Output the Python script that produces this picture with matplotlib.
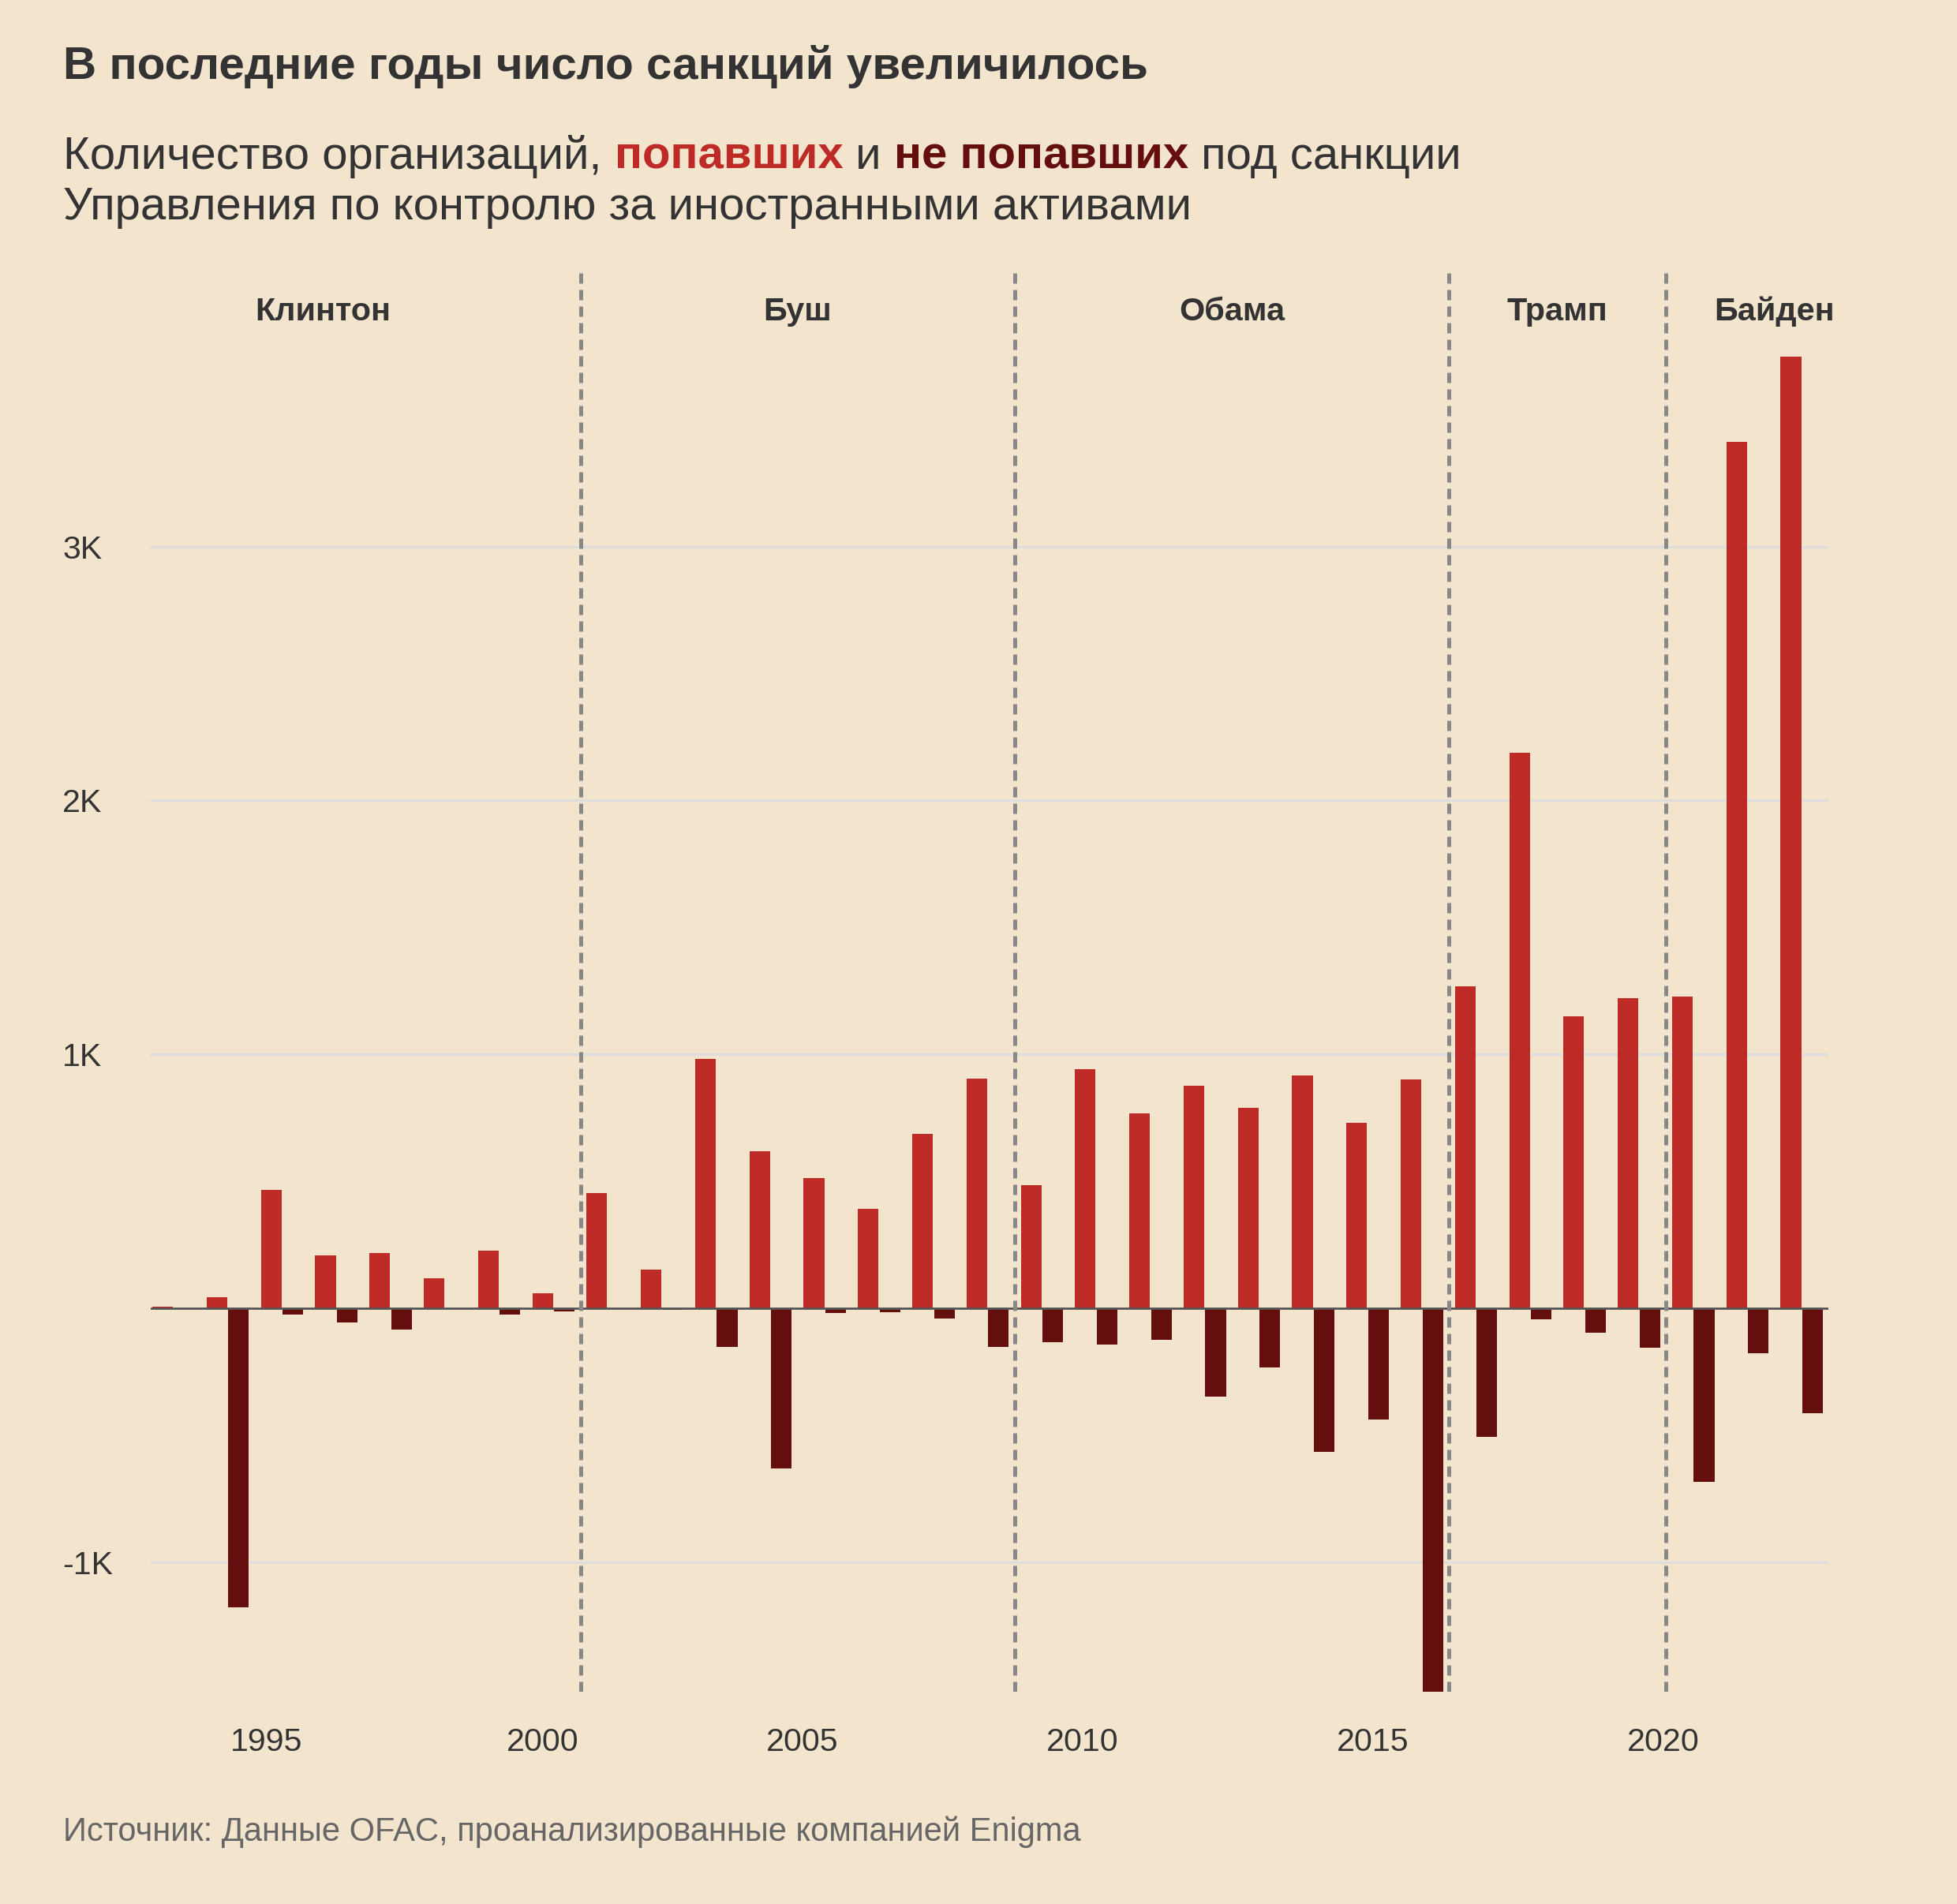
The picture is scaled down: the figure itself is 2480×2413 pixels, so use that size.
import numpy as np
import matplotlib.pyplot as plt
from matplotlib.transforms import blended_transform_factory

plt.rcParams['font.family'] = ['Liberation Sans', 'DejaVu Sans']

# data
years = np.arange(1993, 2024)
hit = [9, 45, 468, 211, 219, 118, 227, 59, 454, 154, 984, 620, 514, 392, 687, 904,
       485, 942, 770, 878, 790, 918, 731, 903, 1267, 2189, 1149, 1223, 1228, 3412, 3748]
not_hit = [0, -1175, -24, -53, -83, 0, -24, -12, 0, -6, -152, -628, -16, -15, -39, -152,
           -133, -143, -122, -346, -233, -565, -437, -1508, -504, -42, -94, -155, -682, -177, -413]
term_breaks = [2000.5, 2008.5, 2016.5, 2020.5]
presidents = ['Клинтон', 'Буш', 'Обама', 'Трамп', 'Байден']
pres_x = [1995.75, 2004.5, 2012.5, 2018.5, 2022.5]
xtick_labels = ['1995', '2000', '2005', '2010', '2015', '2020']
ytick_vals = [-1000, 1000, 2000, 3000]
ytick_labels = ['-1K', '1K', '2K', '3K']

bg = '#F3E4CE'
red = '#BE2A26'
dark = '#650E0E'
txt = '#333333'

W, H = 2480, 2413
fig = plt.figure(figsize=(W / 200, H / 200), dpi=200, facecolor=bg)
ax = fig.add_axes([191 / W, 1 - 2144 / H, (2317 - 191) / W, (2144 - 338) / H])
ax.set_facecolor(bg)

w = 0.38
ax.bar(years - 0.2, hit, width=w, color=red, zorder=2)
ax.bar(years + 0.2, not_hit, width=w, color=dark, zorder=2)

for v in ytick_vals:
    ax.axhline(v, color='#DEDEDE', lw=1.1, zorder=0)
ax.axhline(0, color='#555555', lw=1.0, zorder=3)

for xb in term_breaks:
    ax.axvline(xb, color='#888888', lw=1.8, dashes=(2.6, 1.6), zorder=4)

ax.set_xlim(1992.58, 2023.49)
ax.set_ylim(-1508, 4101)

for s in ax.spines.values():
    s.set_visible(False)

ax.set_xticks([1994.71, 1999.80, 2004.59, 2009.75, 2015.10, 2020.45])
ax.set_xticklabels(xtick_labels)
ax.set_yticks(ytick_vals)
ax.set_yticklabels(ytick_labels, ha='left')
ax.tick_params(axis='x', length=0, pad=16.2, labelsize=14.8, labelcolor=txt)
ax.tick_params(axis='y', length=0, pad=40.3, labelsize=14.8, labelcolor=txt)

tr = blended_transform_factory(ax.transData, fig.transFigure)
for name, px in zip(presidents, pres_x):
    ax.text(px, 1 - 406 / H, name, transform=tr, ha='center', va='baseline',
            fontsize=14.9, fontweight='bold', color=txt)

# title, subtitle
fig.text(80 / W, 1 - 100 / H, 'В последние годы число санкций увеличилось',
         fontsize=21.0, fontweight='bold', color=txt, va='baseline')

r = fig.canvas.get_renderer()
parts = [('Количество организаций, ', txt, 'normal'),
         ('попавших', red, 'bold'),
         (' и ', txt, 'normal'),
         ('не попавших', dark, 'bold'),
         (' под санкции', txt, 'normal')]
x = 80 / W
for s, c, fw in parts:
    t = fig.text(x, 1 - 214 / H, s, fontsize=20.95, color=c, fontweight=fw, va='baseline')
    x += t.get_window_extent(renderer=r).width / fig.bbox.width
fig.text(80 / W, 1 - 278 / H, 'Управления по контролю за иностранными активами',
         fontsize=20.95, color=txt, va='baseline')

fig.text(80 / W, 1 - 2333 / H, 'Источник: Данные OFAC, проанализированные компанией Enigma',
         fontsize=15, color='#666666', va='baseline')

fig.savefig('out.png', dpi=200, facecolor=bg)
